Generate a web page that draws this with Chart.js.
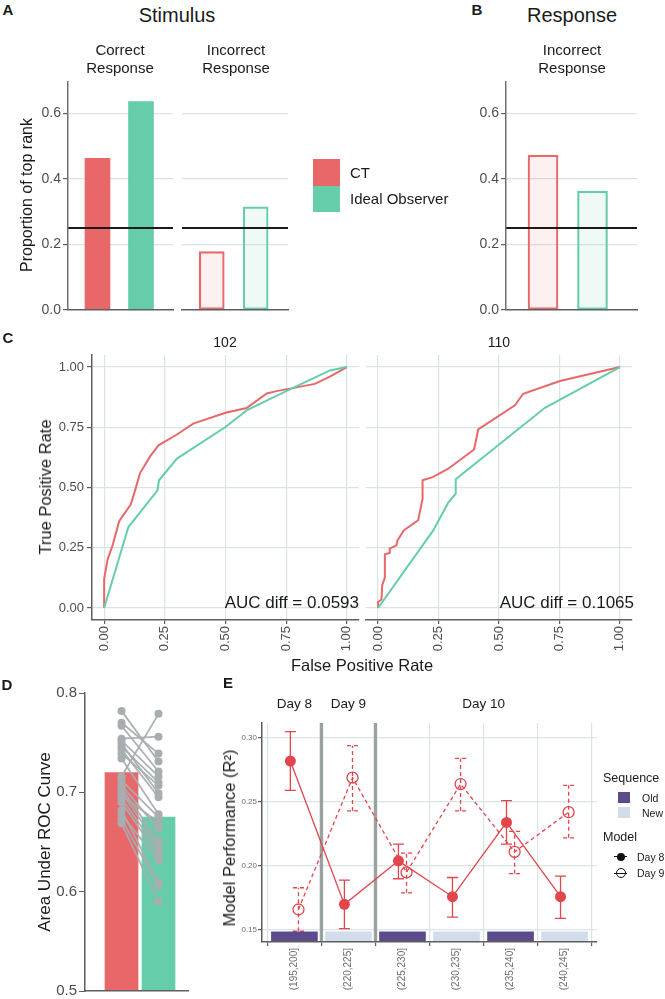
<!DOCTYPE html>
<html>
<head>
<meta charset="utf-8">
<script src="https://cdn.jsdelivr.net/npm/chart.js@4.4.1/dist/chart.umd.min.js"></script>
<style>
  body { margin: 0; background: #fff; width: 665px; height: 999px; overflow: hidden; position: relative;
         font-family: 'Liberation Sans', Arial, sans-serif; color: #1a1a1a; }
  canvas { position: absolute; }
  .t { position: absolute; white-space: nowrap; line-height: 18px; text-align: center; }
  .b { position: absolute; }
</style>
</head>
<body>
<canvas id="a1"></canvas>
<canvas id="a2"></canvas>
<canvas id="b1"></canvas>
<canvas id="c1"></canvas>
<canvas id="c2"></canvas>
<canvas id="d1"></canvas>
<canvas id="e1"></canvas>
<script>
// ---- data ----
const groups = ['CT', 'Ideal Observer'];
const stimCorrect = [0.463, 0.636];
const stimIncorrect = [0.178, 0.315];
const respIncorrect = [0.473, 0.363];
const chanceLevel = 0.25;
const propTicks = [0, 0.2, 0.4, 0.6];

// ROC curves, subject 102
const roc102CtFpr = [0, 0, 0.014, 0.035, 0.062, 0.11, 0.128, 0.148, 0.19, 0.224, 0.30, 0.367, 0.5, 0.587, 0.67, 0.71, 0.868, 0.93, 1];
const roc102CtTpr = [0, 0.12, 0.2, 0.26, 0.36, 0.43, 0.49, 0.56, 0.63, 0.675, 0.72, 0.765, 0.81, 0.83, 0.89, 0.9, 0.93, 0.96, 1];
const roc102IoFpr = [0, 0.1, 0.22, 0.226, 0.30, 0.5, 0.587, 0.75, 0.93, 1];
const roc102IoTpr = [0, 0.336, 0.488, 0.53, 0.62, 0.751, 0.82, 0.9, 0.986, 1];
// ROC curves, subject 110
const roc110CtFpr = [0, 0, 0.014, 0.017, 0.028, 0.028, 0.046, 0.048, 0.076, 0.08, 0.106, 0.166, 0.184, 0.184, 0.228, 0.29, 0.397, 0.414, 0.566, 0.6, 0.752, 1];
const roc110CtTpr = [0, 0.025, 0.035, 0.094, 0.126, 0.223, 0.228, 0.246, 0.26, 0.28, 0.322, 0.364, 0.454, 0.53, 0.544, 0.578, 0.658, 0.741, 0.841, 0.889, 0.942, 1];
const roc110IoFpr = [0, 0.228, 0.29, 0.321, 0.321, 0.69, 1];
const roc110IoTpr = [0, 0.322, 0.437, 0.474, 0.534, 0.831, 1];
const rocSubjects = ['102', '110'];
const aucDiffs = ['0.0593', '0.1065'];
const rocTicks = [0, 0.25, 0.5, 0.75, 1];

// AUC per subject
const aucCT = [0.782, 0.770, 0.767, 0.754, 0.752, 0.749, 0.746, 0.743, 0.739, 0.734, 0.716,
               0.712, 0.707, 0.704, 0.700, 0.697, 0.694, 0.690, 0.682, 0.678, 0.673, 0.669];
const aucIO = [0.731, 0.739, 0.721, 0.756, 0.716, 0.699, 0.710, 0.695, 0.707, 0.678, 0.779,
               0.675, 0.663, 0.651, 0.646, 0.670, 0.641, 0.636, 0.609, 0.631, 0.606, 0.590];
const aucMeans = [0.72, 0.675];
const aucTicks = [0.5, 0.6, 0.7, 0.8];

// model performance
const bins = ['(195,200]', '(220,225]', '(225,230]', '(230,235]', '(235,240]', '(240,245]'];
const seqType = ['Old', 'New', 'Old', 'New', 'Old', 'New'];
const seqRange = [0.1406, 0.1485];
const day8Mean = [0.282, 0.170, 0.204, 0.176, 0.234, 0.176];
const day8Lo   = [0.259, 0.151, 0.190, 0.160, 0.217, 0.159];
const day8Hi   = [0.305, 0.189, 0.217, 0.191, 0.251, 0.192];
const day9Mean = [0.166, 0.269, 0.195, 0.264, 0.211, 0.242];
const day9Lo   = [0.149, 0.243, 0.179, 0.243, 0.194, 0.222];
const day9Hi   = [0.183, 0.294, 0.210, 0.284, 0.227, 0.263];
const dayLabels = ['Day 8', 'Day 9', 'Day 10'];
const dayCenters = [1, 2, 4.5];
const dayDividers = [1.5, 2.5];
const perfTicks = [0.15, 0.20, 0.25, 0.30];

// ---- style ----
const RED = '#e8686a', GREEN = '#66cdaa';
const RED_FILL = 'rgba(232,104,106,0.1)', GREEN_FILL = 'rgba(102,205,170,0.1)';
const RED_E = '#e0464c', OLD = '#5c4b8b', NEW = '#d3dcea';
const GRID = '#d9e5e2', AXIS = '#5e5e5e', TICKTXT = '#4d4d4d';

Chart.defaults.font.family = "'Liberation Sans', Arial, sans-serif";
Chart.defaults.animation = false;
Chart.defaults.responsive = false;
Chart.defaults.plugins.legend.display = false;
Chart.defaults.plugins.tooltip.enabled = false;

function place(id, area, yW, xH, pad) {
  const c = document.getElementById(id);
  const w = area[2] - area[0] + yW + 2 * pad;
  const h = area[3] - area[1] + xH + 2 * pad;
  c.width = w; c.height = h;
  c.style.width = w + 'px'; c.style.height = h + 'px';
  c.style.left = (area[0] - yW - pad) + 'px';
  c.style.top = (area[1] - pad) + 'px';
  return c;
}
const fix = n => s => { if (s.isHorizontal()) s.height = n; else s.width = n; };
const setTicks = vals => s => { s.ticks = vals.map(v => ({ value: v })); };
const pts = (xs, ys) => xs.map((x, i) => ({ x: x, y: ys[i] }));

function text(str, x, y, o = {}) {
  const d = document.createElement('div');
  d.className = 't';
  d.innerHTML = str;
  d.style.left = x + 'px';
  d.style.top = y + 'px';
  d.style.fontSize = (o.size || 14) + 'px';
  if (o.bold) d.style.fontWeight = 'bold';
  if (o.color) d.style.color = o.color;
  let tr = o.align === 'left' ? 'translate(0,-50%)' : o.align === 'right' ? 'translate(-100%,-50%)' : 'translate(-50%,-50%)';
  if (o.rotate) tr += ' rotate(-90deg)';
  d.style.transform = tr;
  document.body.appendChild(d);
}
function box(x, y, w, h, css) {
  const d = document.createElement('div');
  d.className = 'b';
  d.style.cssText += `left:${x}px;top:${y}px;width:${w}px;height:${h}px;` + css;
  document.body.appendChild(d);
}

// ---- A / B: proportion of top rank ----
const xA = { min: 0.322, max: 2.736 };
const xB = { min: 0.2525, max: 2.899 };
const propMax = 0.696;

function propChart(id, area, yW, values, xr, thick, filled, showY) {
  return new Chart(place(id, area, yW, 0, 14), {
    type: 'bar',
    data: {
      datasets: [
        { type: 'line', order: 0, data: [{ x: xr.min, y: chanceLevel }, { x: xr.max, y: chanceLevel }],
          borderColor: '#1a1a1a', borderWidth: 2, pointRadius: 0 },
        { order: 1, data: values.map((v, i) => ({ x: i + 1, y: v })), barThickness: thick,
          backgroundColor: filled ? [RED, GREEN] : [RED_FILL, GREEN_FILL],
          borderColor: [RED, GREEN], borderWidth: filled ? 0 : 1.5, borderSkipped: false }
      ]
    },
    options: {
      layout: { padding: 14 },
      scales: {
        x: { type: 'linear', min: xr.min, max: xr.max, offset: false,
             ticks: { display: false }, grid: { display: false },
             border: { color: AXIS, width: 1.5, z: 1 }, afterFit: fix(0) },
        y: { min: 0, max: propMax, afterBuildTicks: setTicks(propTicks),
             ticks: { display: showY, callback: v => v.toFixed(1), font: { size: 14 }, color: TICKTXT, padding: 2 },
             grid: { color: c => c.tick && c.tick.value === 0 ? 'transparent' : GRID, lineWidth: 1.2,
                     drawTicks: showY, tickLength: 5, tickColor: AXIS },
             border: { display: showY, color: '#707070', width: 1.5, z: 1 }, afterFit: fix(yW) }
      }
    }
  });
}
propChart('a1', [68, 82, 173, 310], 68, stimCorrect, xA, 25, true, true);
propChart('a2', [182, 82, 288, 310], 0, stimIncorrect, xA, 25, false, false);
propChart('b1', [506, 82, 637, 310], 46, respIncorrect, xB, 30, false, true);

// ---- C: ROC curves ----
function rocChart(id, area, yW, ctX, ctY, ioX, ioY, showY) {
  return new Chart(place(id, area, yW, 35, 14), {
    type: 'scatter',
    data: {
      datasets: [
        { data: pts(ioX, ioY), showLine: true, borderColor: GREEN, borderWidth: 2, pointRadius: 0 },
        { data: pts(ctX, ctY), showLine: true, borderColor: RED, borderWidth: 2, pointRadius: 0 }
      ]
    },
    options: {
      layout: { padding: 14 },
      scales: {
        x: { type: 'linear', min: -0.05, max: 1.05, afterBuildTicks: setTicks(rocTicks),
             ticks: { callback: v => v.toFixed(2), minRotation: 90, maxRotation: 90, font: { size: 13 }, color: TICKTXT, padding: 2 },
             grid: { color: GRID, lineWidth: 1.2, tickLength: 4, tickColor: AXIS },
             border: { color: AXIS, width: 1.5, z: 1 }, afterFit: fix(35) },
        y: { min: -0.05, max: 1.05, afterBuildTicks: setTicks(rocTicks),
             ticks: { display: showY, callback: v => v.toFixed(2), font: { size: 13 }, color: TICKTXT, padding: 3 },
             grid: { color: GRID, lineWidth: 1.2, drawTicks: showY, tickLength: 5, tickColor: AXIS },
             border: { display: showY, color: AXIS, width: 1.5, z: 1 }, afterFit: fix(yW) }
      }
    }
  });
}
rocChart('c1', [92, 355, 359, 620], 92, roc102CtFpr, roc102CtTpr, roc102IoFpr, roc102IoTpr, true);
rocChart('c2', [366, 355, 632, 620], 0, roc110CtFpr, roc110CtTpr, roc110IoFpr, roc110IoTpr, false);

// ---- D: AUC ----
const xD = { min: 0.0135, max: 2.797 };
const pairSets = aucCT.map((v, i) => ({
  type: 'line', order: 1, data: [{ x: 1, y: v }, { x: 2, y: aucIO[i] }],
  borderColor: 'rgba(168,173,176,0.95)', borderWidth: 1.8,
  pointRadius: 4, pointBackgroundColor: '#a8adb0', pointBorderWidth: 0
}));
new Chart(place('d1', [85, 693, 188, 991], 85, 0, 14), {
  type: 'bar',
  data: {
    datasets: [
      { order: 2, data: aucMeans.map((v, i) => ({ x: i + 1, y: v })), barThickness: 33,
        backgroundColor: [RED, GREEN], borderWidth: 0 }
    ].concat(pairSets)
  },
  options: {
    layout: { padding: 14 },
    scales: {
      x: { type: 'linear', min: xD.min, max: xD.max, offset: false,
           ticks: { display: false }, grid: { display: false },
           border: { color: AXIS, width: 1.5, z: 1 }, afterFit: fix(0) },
      y: { min: 0.5, max: 0.8, afterBuildTicks: setTicks(aucTicks),
           ticks: { callback: v => v.toFixed(1), font: { size: 15 }, color: TICKTXT, padding: 2 },
           grid: { color: 'transparent', tickLength: 6, tickColor: AXIS },
           border: { color: AXIS, width: 1.5, z: 1 }, afterFit: fix(85) }
    }
  }
});

// ---- E: model performance ----
const dodge = 0.075, cap = 5.5;
const perfExtras = {
  id: 'perfExtras',
  beforeDatasetsDraw(chart) {
    const { ctx, chartArea, scales: { x, y } } = chart;
    ctx.save();
    ctx.strokeStyle = '#9aa29f';
    ctx.lineWidth = 3.4;
    dayDividers.forEach(d => {
      const px = x.getPixelForValue(d);
      ctx.beginPath(); ctx.moveTo(px, chartArea.top); ctx.lineTo(px, chartArea.bottom); ctx.stroke();
    });
    ctx.strokeStyle = RED_E;
    ctx.lineWidth = 1.3;
    [[day8Lo, day8Hi, -dodge, []], [day9Lo, day9Hi, dodge, [4, 3]]].forEach(([lo, hi, off, dash]) => {
      ctx.setLineDash(dash);
      lo.forEach((l, i) => {
        const px = x.getPixelForValue(i + 1 + off);
        const p1 = y.getPixelForValue(l), p2 = y.getPixelForValue(hi[i]);
        ctx.beginPath();
        ctx.moveTo(px, p1); ctx.lineTo(px, p2);
        ctx.moveTo(px - cap, p1); ctx.lineTo(px + cap, p1);
        ctx.moveTo(px - cap, p2); ctx.lineTo(px + cap, p2);
        ctx.stroke();
      });
    });
    ctx.restore();
  },
  afterDraw(chart) {
    const { ctx, chartArea, scales: { x } } = chart;
    ctx.save();
    ctx.fillStyle = '#1a1a1a';
    ctx.font = "13.5px 'Liberation Sans', Arial, sans-serif";
    ctx.textAlign = 'center';
    ctx.textBaseline = 'middle';
    dayLabels.forEach((t, i) => ctx.fillText(t, x.getPixelForValue(dayCenters[i]), chartArea.top - 19));
    ctx.restore();
  }
};
new Chart(place('e1', [262, 723, 597, 942], 62, 50, 32), {
  type: 'bar',
  data: {
    datasets: [
      { type: 'line', order: 1, data: day8Mean.map((v, i) => ({ x: i + 1 - dodge, y: v })),
        borderColor: RED_E, borderWidth: 1.3, pointRadius: 5.5,
        pointBackgroundColor: RED_E, pointBorderColor: RED_E, pointBorderWidth: 0 },
      { type: 'line', order: 2, data: day9Mean.map((v, i) => ({ x: i + 1 + dodge, y: v })),
        borderColor: RED_E, borderWidth: 1.3, borderDash: [4, 3], pointRadius: 5.5,
        pointBackgroundColor: 'rgba(255,255,255,0)', pointBorderColor: RED_E, pointBorderWidth: 1.3 },
      { order: 3, data: seqType.map((s, i) => ({ x: i + 1, y: seqRange })), barThickness: 46,
        backgroundColor: seqType.map(s => s === 'Old' ? OLD : NEW), borderWidth: 0 }
    ]
  },
  options: {
    layout: { padding: 32 },
    scales: {
      x: { type: 'linear', min: 0.4, max: 6.6, offset: false, afterBuildTicks: setTicks([1, 2, 3, 4, 5, 6]),
           ticks: { callback: v => bins[v - 1], minRotation: 90, maxRotation: 90, font: { size: 10 }, color: '#6e6e6e', padding: 2 },
           grid: { color: GRID, lineWidth: 1.2, tickLength: 4, tickColor: AXIS },
           border: { color: AXIS, width: 1.5, z: 1 }, afterFit: fix(50) },
      y: { min: 0.1406, max: 0.3117, afterBuildTicks: setTicks(perfTicks),
           ticks: { callback: v => v.toFixed(2), font: { size: 8 }, color: '#6e6e6e', padding: 1 },
           grid: { color: GRID, lineWidth: 1.2, tickLength: 4, tickColor: AXIS },
           border: { color: AXIS, width: 1.5, z: 1 }, afterFit: fix(62) }
    }
  },
  plugins: [perfExtras]
});

// ---- text and legends ----
text('A', 8, 10, { size: 15, bold: true });
text('Stimulus', 177, 15, { size: 20 });
text('Correct<br>Response', 120, 59, { size: 15 });
text('Incorrect<br>Response', 236, 59, { size: 15 });
text('B', 477, 10, { size: 15, bold: true });
text('Response', 572, 15, { size: 20 });
text('Incorrect<br>Response', 572, 59, { size: 15 });
text('Proportion of top rank', 27, 195, { size: 16, rotate: true });
box(313, 159, 27, 27, 'background:' + RED);
box(313, 186, 27, 26, 'background:' + GREEN);
text(groups[0], 350, 173, { size: 15, align: 'left' });
text(groups[1], 350, 199, { size: 15, align: 'left' });

text('C', 8, 338, { size: 15, bold: true });
text(rocSubjects[0], 225, 342, { size: 14 });
text(rocSubjects[1], 499, 342, { size: 14 });
text('True Positive Rate', 45, 487, { size: 16.5, rotate: true });
text('AUC diff = ' + aucDiffs[0], 359, 603, { size: 17, align: 'right' });
text('AUC diff = ' + aucDiffs[1], 634, 603, { size: 17, align: 'right' });
text('False Positive Rate', 362, 665, { size: 16.5 });

text('D', 7, 685, { size: 15, bold: true });
text('Area Under ROC Curve', 45, 842, { size: 17, rotate: true });

text('E', 228, 683, { size: 15, bold: true });
text('Model Performance (R²)', 229, 838, { size: 16.5, rotate: true });
text('Sequence', 603, 778, { size: 12.5, align: 'left' });
box(618, 792, 12, 11, 'background:' + OLD);
box(618, 807, 12, 11, 'background:' + NEW);
text('Old', 642, 798, { size: 10.5, align: 'left' });
text('New', 642, 813, { size: 10.5, align: 'left' });
text('Model', 603, 837, { size: 12.5, align: 'left' });
box(614, 856, 13, 1.4, 'background:#111');
box(616.5, 852.5, 8, 8, 'background:#111;border-radius:50%');
box(614, 872.5, 13, 1.4, 'background:#111');
box(615.5, 868, 8, 8, 'border:1.2px solid #111;border-radius:50%;background:rgba(255,255,255,0)');
text('Day 8', 637, 857, { size: 10.5, align: 'left' });
text('Day 9', 637, 873, { size: 10.5, align: 'left' });
</script>
</body>
</html>
